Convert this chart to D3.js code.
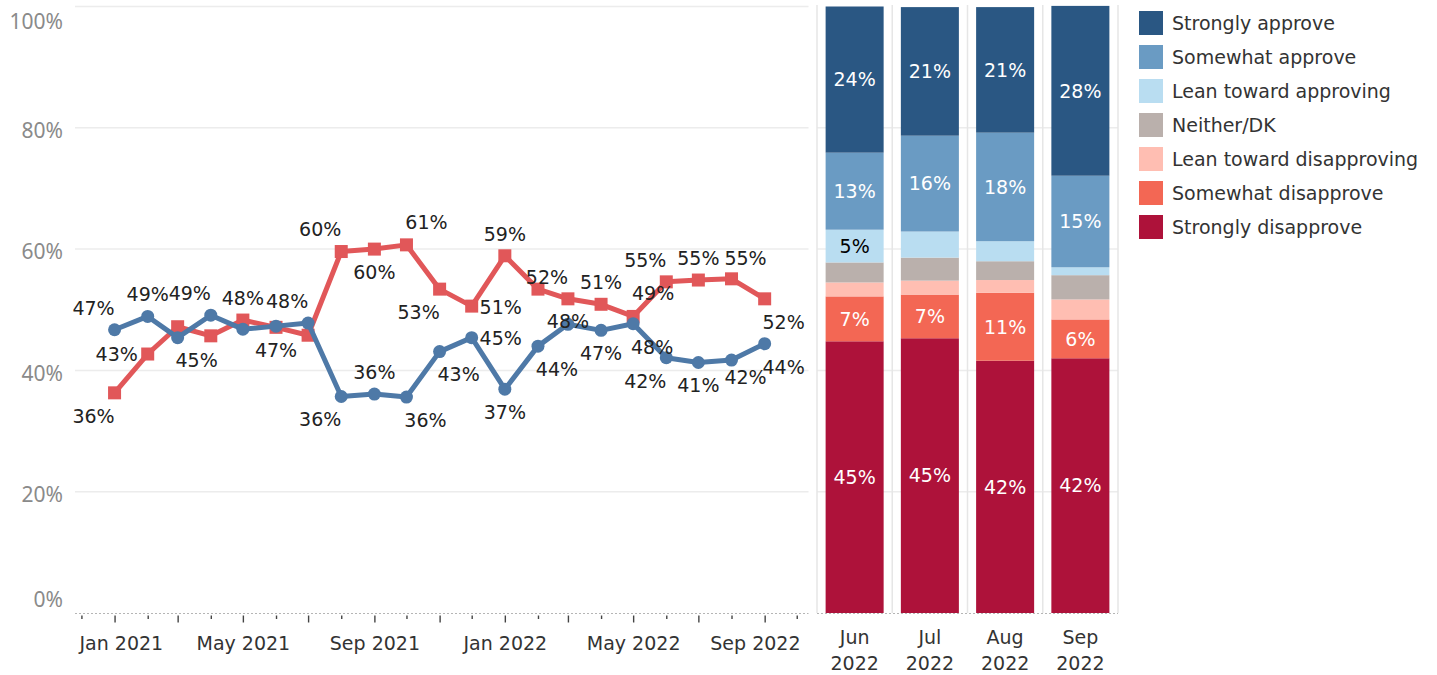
<!DOCTYPE html>
<html><head><meta charset="utf-8">
<script src="https://cdn.jsdelivr.net/npm/d3@7"></script>
<style>body{margin:0;background:#fff;} svg{display:block;}</style>
</head><body>
<svg id="c" width="1437" height="675"></svg>
<script>
// ---------- DATA ----------
const months = ["2021-01","2021-02","2021-03","2021-04","2021-05","2021-06","2021-07","2021-08","2021-09","2021-10","2021-11","2021-12",
                "2022-01","2022-02","2022-03","2022-04","2022-05","2022-06","2022-07","2022-08","2022-09"];
const approve    = [46.7,48.9,45.4,49.1,46.8,47.3,47.8,35.7,36.1,35.6,43.1,45.4,36.9,44.0,47.6,46.6,47.7,42.1,41.3,41.7,44.4];
const disapprove = [36.3,42.7,47.2,45.7,48.3,47.1,45.8,59.6,60.0,60.7,53.4,50.6,58.9,53.4,51.8,50.9,48.9,54.6,54.9,55.1,51.8];
// label placement codes (null = label hidden, as in the original)
const approveLabelPos    = ["al","a","br","al",null,null,"al","bl","a","br","br","r","b","br","c","b","br","bl","b","bR","br"];
const disapproveLabelPos = ["bl","l",null,null,"a","b",null,"al","b","ar","bl","r","a",null,"al","a","ar","al","a","aR","br"];
const yTicks = [0,20,40,60,80,100];
const xLabelMonths = ["2021-01","2021-05","2021-09","2022-01","2022-05","2022-09"];

const barMonths = ["Jun 2022","Jul 2022","Aug 2022","Sep 2022"];
const categories = ["Strongly approve","Somewhat approve","Lean toward approving","Neither/DK","Lean toward disapproving","Somewhat disapprove","Strongly disapprove"];
const stronglyApprove      = [24.1,21.2,20.7,28.0];
const somewhatApprove      = [12.7,15.8,17.9,15.1];
const leanApprove          = [5.4,4.3,3.3,1.3];
const neitherDK            = [3.3,3.8,3.1,4.0];
const leanDisapprove       = [2.3,2.3,2.1,3.3];
const somewhatDisapprove   = [7.4,7.2,11.2,6.4];
const stronglyDisapprove   = [44.8,45.3,41.6,42.0];
const catColors = ["#2a5783","#6a9bc3","#b9ddf1","#bab0ac","#ffbeb2","#f36754","#ae123a"];

// ---------- SETUP ----------
const svg = d3.select("#c");
const parse = d3.timeParse("%Y-%m");
const FONT = "'DejaVu Sans', sans-serif";
const y = d3.scaleLinear().domain([0,100]).range([613,6.5]);
const x = d3.scaleTime().domain([new Date(2020,10,25), new Date(2022,9,12)]).range([75,808.5]);
const gridCol = "#ececec";

// gridlines (line chart)
svg.append("g").selectAll("line").data(yTicks.filter(d=>d>0)).join("line")
  .attr("x1",75).attr("x2",808.5).attr("y1",d=>y(d)).attr("y2",d=>y(d))
  .attr("stroke",gridCol).attr("stroke-width",1.5);

// y axis
const yAx = svg.append("g").attr("transform","translate(63,0)")
  .call(d3.axisLeft(y).tickValues(yTicks).tickFormat(d=>d+"%").tickSize(0).tickPadding(0));
yAx.select(".domain").remove();
yAx.selectAll("text").attr("font-family","'Noto Sans', sans-serif").attr("font-size",21).attr("fill","#8a8a8a")
  .attr("dy",d=> d===100 ? "1.05em" : d===0 ? "-0.3em" : "0.46em");

// x axis (time)
const xAx = svg.append("g").attr("transform","translate(0,615.5)")
  .call(d3.axisBottom(x).tickValues(d3.timeMonth.range(new Date(2020,11,1), new Date(2022,9,2)))
     .tickSize(7).tickPadding(0)
     .tickFormat(d=> xLabelMonths.includes(d3.timeFormat("%Y-%m")(d)) ? d3.timeFormat("%b %Y")(d) : ""));
xAx.select(".domain").remove();
xAx.selectAll(".tick line").attr("stroke","#444").attr("stroke-width",1.4)
  .attr("y2",d=> d.getMonth()%2===0 ? 7 : 3.5);
xAx.selectAll("text").attr("font-family",FONT).attr("font-size",19).attr("fill","#333")
  .attr("y",34.5).attr("dy",0);
// keep the end labels inside the axis extent, as the original does
xAx.selectAll(".tick").each(function(d){
  const t = d3.select(this).select("text");
  if (!t.text()) return;
  const bb = t.node().getBBox(); const cx = x(d);
  const left = cx + bb.x, right = cx + bb.x + bb.width;
  if (left < 78) t.attr("x", 78 - left);
  if (right > 800) t.attr("x", 800 - right);
});
// dotted baselines
svg.append("line").attr("x1",75).attr("x2",808.5).attr("y1",613.5).attr("y2",613.5)
  .attr("stroke","#b5b5b5").attr("stroke-dasharray","2,2").attr("stroke-width",1);

// ---------- LINES ----------
const pts = (vals)=> months.map((m,i)=>({date:parse(m), v:vals[i], i}));
const aPts = pts(approve), dPts = pts(disapprove);
const line = d3.line().x(d=>x(d.date)).y(d=>y(d.v));
const RED="#e15759", BLUE="#4e79a7";

svg.append("path").datum(dPts).attr("d",line).attr("fill","none").attr("stroke",RED).attr("stroke-width",5).attr("stroke-linejoin","round");
svg.append("g").selectAll("rect").data(dPts).join("rect")
  .attr("x",d=>x(d.date)-6.5).attr("y",d=>y(d.v)-6.5).attr("width",13).attr("height",13).attr("fill",RED);
svg.append("path").datum(aPts).attr("d",line).attr("fill","none").attr("stroke",BLUE).attr("stroke-width",5).attr("stroke-linejoin","round");
svg.append("g").selectAll("circle").data(aPts).join("circle")
  .attr("cx",d=>x(d.date)).attr("cy",d=>y(d.v)).attr("r",6.5).attr("fill",BLUE);

const off = {a:[0,-22],b:[0,23],al:[-21,-22],ar:[20,-23],bl:[-21,23],br:[19,23],l:[-31,0],r:[29,1],c:[0,-3],aR:[14,-21],bR:[14,17]};
function labels(P, pos){
  svg.append("g").selectAll("text").data(P.filter(d=>pos[d.i])).join("text")
    .attr("x",d=>x(d.date)+off[pos[d.i]][0]).attr("y",d=>y(d.v)+off[pos[d.i]][1])
    .attr("dy","0.36em").attr("text-anchor","middle")
    .attr("font-family",FONT).attr("font-size",19).attr("fill","#222")
    .text(d=>Math.round(d.v)+"%");
}
labels(dPts, disapproveLabelPos);
labels(aPts, approveLabelPos);

// ---------- BARS ----------
const seriesByCat = [stronglyApprove,somewhatApprove,leanApprove,neitherDK,leanDisapprove,somewhatDisapprove,stronglyDisapprove];
const rows = barMonths.map((m,j)=>{ const r={month:m}; categories.forEach((c,k)=>r[c]=seriesByCat[k][j]); return r; });
const stackKeys = categories.slice().reverse();
const stacked = d3.stack().keys(stackKeys)(rows);
const color = d3.scaleOrdinal().domain(categories).range(catColors);
const xb = d3.scaleBand().domain(barMonths).range([817,1118]).paddingInner(0.229).paddingOuter(0.1145);
const step = xb.step();

// bar-panel gridlines & separators
svg.append("g").selectAll("line").data(yTicks.filter(d=>d>0 && d<100)).join("line")
  .attr("x1",817).attr("x2",1118).attr("y1",d=>y(d)).attr("y2",d=>y(d)).attr("stroke",gridCol).attr("stroke-width",1.5);
svg.append("g").selectAll("line").data(d3.range(barMonths.length+1)).join("line")
  .attr("x1",d=>817+d*step).attr("x2",d=>817+d*step).attr("y1",5).attr("y2",613)
  .attr("stroke","#e6e6e6").attr("stroke-width",1.5);
svg.append("line").attr("x1",817).attr("x2",1118).attr("y1",613.5).attr("y2",613.5)
  .attr("stroke","#b5b5b5").attr("stroke-dasharray","2,2").attr("stroke-width",1);

const layers = svg.append("g").selectAll("g").data(stacked).join("g").attr("fill",d=>color(d.key));
layers.selectAll("rect").data(d=>d.map(s=>({key:d.key, s}))).join("rect")
  .attr("x",d=>xb(d.s.data.month)).attr("width",xb.bandwidth())
  .attr("y",d=>y(d.s[1])).attr("height",d=>y(d.s[0])-y(d.s[1]));
layers.selectAll("text").data(d=>d.map(s=>({key:d.key, s})).filter(d=>d.s[1]-d.s[0]>=5)).join("text")
  .attr("x",d=>xb(d.s.data.month)+xb.bandwidth()/2).attr("y",d=>(y(d.s[0])+y(d.s[1]))/2)
  .attr("dy","0.36em").attr("text-anchor","middle").attr("font-family",FONT).attr("font-size",19)
  .attr("fill",d=> d3.hsl(color(d.key)).l>0.7 ? "#000" : "#fff")
  .text(d=>Math.round(d.s[1]-d.s[0])+"%");

// bar x axis
const bAx = svg.append("g").attr("transform","translate(0,613)").call(d3.axisBottom(xb).tickSize(0).tickPadding(0));
bAx.select(".domain").remove();
bAx.selectAll("text").text(null).attr("font-family",FONT).attr("font-size",19).attr("fill","#333").attr("dy",0)
  .each(function(d){
    const parts = d.split(" "); const t=d3.select(this);
    t.append("tspan").attr("x",0).attr("y",31).text(parts[0]);
    t.append("tspan").attr("x",0).attr("y",57).text(parts[1]);
  });

// ---------- LEGEND ----------
const lg = svg.append("g").selectAll("g").data(categories).join("g")
  .attr("transform",(d,i)=>`translate(1139,${11+i*34})`);
lg.append("rect").attr("width",24).attr("height",24).attr("fill",d=>color(d));
lg.append("text").attr("x",33).attr("y",12).attr("dy","0.36em").attr("font-family",FONT).attr("font-size",19).attr("fill","#333").text(d=>d);
</script>
</body></html>
